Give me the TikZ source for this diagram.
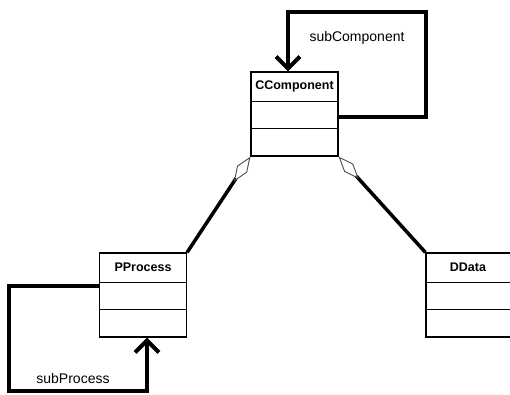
\documentclass[tikz,border=0pt]{standalone}
\usepackage{fontspec}
\setmainfont{Liberation Sans}
\usetikzlibrary{arrows.meta,calc}
\begin{document}
\begin{tikzpicture}[x=1pt,y=-1pt,
  cls/.style={draw=black,line width=1.2pt,minimum width=87pt,minimum height=84pt,inner sep=0pt},
  clsname/.style={font=\bfseries\fontsize{12.5}{14}\selectfont,inner sep=0pt},
  divider/.style={draw=black,line width=1.2pt},
  agg/.style={line width=3.5pt,{Diamond[open,length=30pt,width=12pt,line width=0.9pt,color=black!70]}-},
  selfrel/.style={line width=4pt,-{Straight Barb[length=12pt,width=24pt]}},
  lbl/.style={font=\fontsize{14}{16}\selectfont,inner sep=0pt}]
\path[use as bounding box, fill=white] (0,0) rectangle (510,395);
\clip (0,0) rectangle (510,395);
% classes
\node[cls] (c) at (294.5,114) {};
\node[cls] (p) at (143,295) {};
\node[cls] (d) at (469.5,295) {};
\node[clsname] (cn) at ($(c.north)+(0,15)$) {CComponent};
\node[clsname] (pn) at ($(p.north)+(0,15)$) {PProcess};
\node[clsname] (dn) at ($(d.north)+(-1.5,15)$) {DData};
\foreach \n in {c,p,d}{
  \draw[divider] ($(\n.north west)+(0,30)$) -- ($(\n.north east)+(0,30)$);
  \draw[divider] ($(\n.north west)+(0,57)$) -- ($(\n.north east)+(0,57)$);
}
% aggregations
\draw[agg] (c.south west) -- (p.north east);
\draw[agg] (c.south east) -- (d.north west);
% self associations
\draw[selfrel] ($(c.east)+(0,3)$) -- ++(87,0) |- ($(c.north)+(-6.5,-59)$) -- ($(c.north)+(-6.5,0)$);
\node[lbl] (sc) at (357,38) {subComponent};
\draw[selfrel] ($(p.west)+(0,-9)$) -- ++(-90,0) |- ($(p.south)+(4,53)$) -- ($(p.south)+(4,0)$);
\node[lbl] (sp) at (73,378) {subProcess};
\end{tikzpicture}
\end{document}
